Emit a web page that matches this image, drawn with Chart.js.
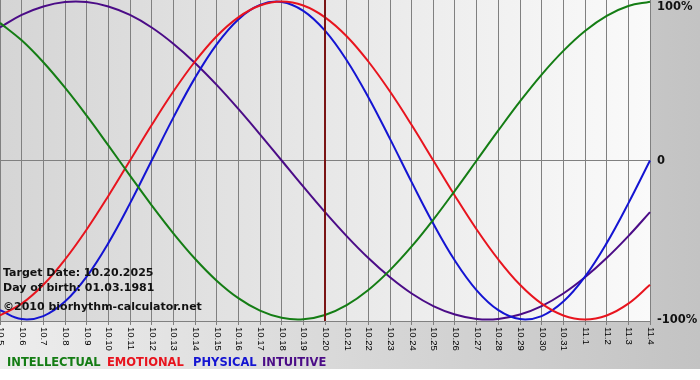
<!DOCTYPE html>
<html>
<head>
<meta charset="utf-8">
<script src="https://cdn.jsdelivr.net/npm/chart.js@4/dist/chart.umd.min.js"></script>
<style>
html,body{margin:0;padding:0;background:#fff;}
canvas{display:block;}
</style>
</head>
<body>
<canvas id="c" width="700" height="380"></canvas>
<script>
const labels = ['10.5','10.6','10.7','10.8','10.9','10.10','10.11','10.12','10.13','10.14','10.15','10.16','10.17','10.18','10.19','10.20','10.21','10.22','10.23','10.24','10.25','10.26','10.27','10.28','10.29','10.30','10.31','11.1','11.2','11.3','11.4'];

const intellectual = [0.866,0.756,0.618,0.458,0.282,0.095,-0.095,-0.282,-0.458,-0.618,-0.756,-0.866,-0.945,-0.990,-0.999,-0.972,-0.910,-0.815,-0.690,-0.541,-0.372,-0.189,0.000,0.189,0.372,0.541,0.690,0.815,0.910,0.972,0.999];
const emotional = [-0.975,-0.901,-0.782,-0.623,-0.434,-0.223,0.000,0.223,0.434,0.623,0.782,0.901,0.975,1.000,0.975,0.901,0.782,0.623,0.434,0.223,0.000,-0.223,-0.434,-0.623,-0.782,-0.901,-0.975,-1.000,-0.975,-0.901,-0.782];
const physical = [-0.942,-0.998,-0.979,-0.888,-0.731,-0.520,-0.270,0.000,0.270,0.520,0.731,0.888,0.979,0.998,0.942,0.817,0.631,0.398,0.136,-0.136,-0.398,-0.631,-0.817,-0.942,-0.998,-0.979,-0.888,-0.731,-0.520,-0.270,0.000];
const intuitive = [0.837,0.916,0.969,0.997,0.997,0.969,0.916,0.837,0.735,0.614,0.476,0.325,0.165,0.000,-0.165,-0.325,-0.476,-0.614,-0.735,-0.837,-0.916,-0.969,-0.997,-0.997,-0.969,-0.916,-0.837,-0.735,-0.614,-0.476,-0.325];

const seriesNames = ['INTELLECTUAL','EMOTIONAL','PHYSICAL','INTUITIVE'];
const seriesColors = ['#147d14','#e8141e','#1414d2','#4b0c87'];
const yTickValues = [1, 0, -1];
const yTickLabels = ['100%','0','-100%'];
const targetDay = '10.20';
const infoLines = ['Target Date: 10.20.2025','Day of birth: 01.03.1981','\u00A92010 biorhythm-calculator.net'];

const legendX = [7, 107, 193, 262];

const bgPlugin = {
  id: 'bg',
  beforeDraw(chart) {
    const ctx = chart.ctx, a = chart.chartArea;
    ctx.save();
    ctx.fillStyle = '#ffffff';
    ctx.fillRect(0, 0, chart.width, chart.height);
    let g = ctx.createLinearGradient(0, 0, chart.width, 0);
    g.addColorStop(0, '#ededed');
    g.addColorStop(1, '#c3c3c3');
    ctx.fillStyle = g;
    ctx.fillRect(0, 0, chart.width, 369);
    g = ctx.createLinearGradient(a.left, 0, a.right, 0);
    g.addColorStop(0, '#d5d5d5');
    g.addColorStop(1, '#fafafa');
    ctx.fillStyle = g;
    ctx.fillRect(a.left, a.top, a.right - a.left, a.bottom - a.top);
    ctx.restore();
  },
  afterDatasetsDraw(chart) {
    const ctx = chart.ctx, a = chart.chartArea;
    const xs = chart.scales.x;
    ctx.save();
    const tx = Math.round(xs.getPixelForValue(labels.indexOf(targetDay)));
    ctx.strokeStyle = '#7a1414';
    ctx.lineWidth = 2;
    ctx.beginPath();
    ctx.moveTo(tx, a.top);
    ctx.lineTo(tx, a.bottom);
    ctx.stroke();
    ctx.fillStyle = '#111111';
    ctx.font = 'bold 11px "DejaVu Sans"';
    ctx.textAlign = 'left';
    ctx.textBaseline = 'alphabetic';
    ctx.fillText(infoLines[0], 3, 276);
    ctx.fillText(infoLines[1], 3, 291);
    ctx.fillText(infoLines[2], 3, 310);
    ctx.restore();
  },
  afterDraw(chart) {
    const ctx = chart.ctx, a = chart.chartArea;
    const xs = chart.scales.x, ys = chart.scales.y;
    ctx.save();
    ctx.fillStyle = '#000000';
    ctx.font = '9.5px "Liberation Sans"';
    ctx.textAlign = 'left';
    ctx.textBaseline = 'middle';
    labels.forEach((lab, i) => {
      const x = xs.getPixelForTick(i);
      ctx.save();
      ctx.translate(x + 0.5, a.bottom + 6);
      ctx.rotate(Math.PI / 2);
      ctx.fillText(lab, 0, 0);
      ctx.restore();
    });
    ctx.font = 'bold 11.5px "DejaVu Sans"';
    ctx.fillStyle = '#111111';
    ctx.textBaseline = 'middle';
    yTickValues.forEach((v, i) => {
      let y = ys.getPixelForValue(v);
      y = Math.max(y + 1, 7);
      ctx.fillText(yTickLabels[i], a.right + 7, y);
    });
    ctx.font = 'bold 11.5px "DejaVu Sans"';
    ctx.textBaseline = 'alphabetic';
    chart.data.datasets.forEach((ds, i) => {
      ctx.fillStyle = ds.borderColor;
      ctx.fillText(ds.label, legendX[i], 366);
    });
    ctx.restore();
  }
};

const seriesData = [intellectual, emotional, physical, intuitive];

new Chart(document.getElementById('c'), {
  type: 'line',
  data: {
    labels: labels,
    datasets: seriesNames.map((n, i) => ({
      label: n,
      data: seriesData[i],
      borderColor: seriesColors[i],
      backgroundColor: seriesColors[i],
      borderWidth: 2,
      pointRadius: 0,
      tension: 0.4,
      fill: false,
      clip: 4
    }))
  },
  options: {
    responsive: false,
    devicePixelRatio: 1,
    animation: false,
    layout: { padding: 0 },
    plugins: { legend: { display: false }, tooltip: { enabled: false }, title: { display: false } },
    scales: {
      x: {
        type: 'category',
        offset: false,
        grid: { color: '#808080', lineWidth: 1, drawTicks: true, tickLength: 4, tickColor: '#808080' },
        border: { display: true, color: '#808080', width: 1 },
        ticks: { display: false, autoSkip: false },
        afterFit(s) { s.height = 59; }
      },
      y: {
        position: 'right',
        min: -1.01,
        max: 1.01,
        afterBuildTicks(s) { s.ticks = yTickValues.map(v => ({ value: v })); },
        grid: { color: ctx => (ctx.tick && ctx.tick.value === 0) ? '#808080' : 'rgba(0,0,0,0)', drawTicks: false },
        border: { display: false },
        ticks: { display: false },
        afterFit(s) { s.width = 50; }
      }
    }
  },
  plugins: [bgPlugin]
});
</script>
</body>
</html>
